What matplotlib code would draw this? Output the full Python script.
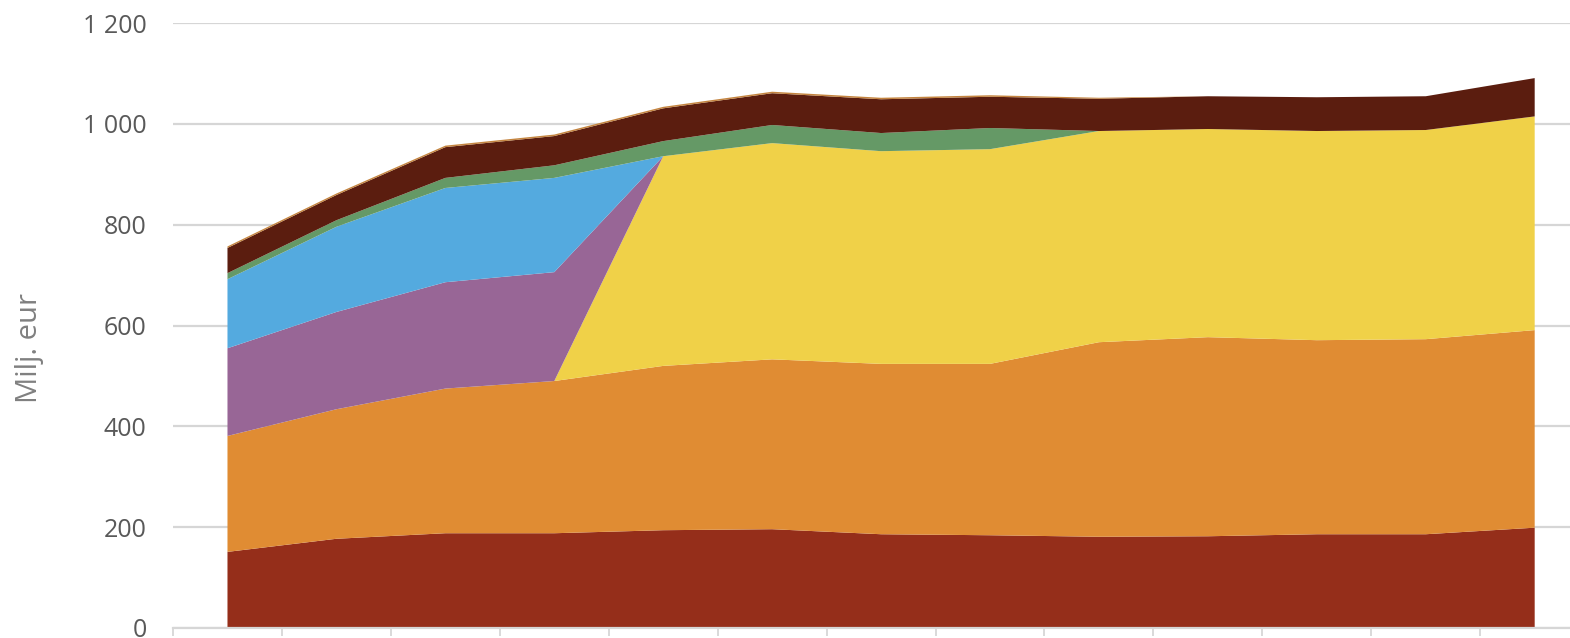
import matplotlib.pyplot as plt

# values per year (13 points), bottom to top of the stack
years = list(range(13))
red = [151, 177, 188, 188, 194, 196, 186, 184, 181, 182, 186, 186, 199]
orange = [230, 257, 287, 302, 326, 337, 338, 340, 386, 395, 385, 387, 392]
yellow = [0, 0, 0, 0, 416, 429, 422, 426, 419, 413, 415, 415, 424]
purple = [174, 193, 211, 216, 0, 0, 0, 0, 0, 0, 0, 0, 0]
blue = [137, 169, 187, 187, 0, 0, 0, 0, 0, 0, 0, 0, 0]
green = [12, 13, 20, 25, 30, 36, 36, 42, 0, 0, 0, 0, 0]
brown = [50, 50, 61, 58, 65, 63, 67, 62, 64, 65, 67, 67, 76]
tan = [3, 3, 3, 3, 3, 3, 3, 3, 2, 0, 0, 0, 0]

colors = ['#952E1A', '#E08C33', '#F0D148', '#986696', '#54AADF',
          '#659966', '#5B1D0F', '#C4843F']

yticks = [0, 200, 400, 600, 800, 1000, 1200]
ylabels = ['0', '200', '400', '600', '800', '1 000', '1 200']

fig = plt.figure(figsize=(15.7, 6.38), dpi=100)
# axes runs past the right edge, the original is cropped there
ax = fig.add_axes([0.1102, 0.0157, 0.902, 0.948])

ax.stackplot(years, red, orange, yellow, purple, blue, green, brown, tan,
             colors=colors, linewidth=0, zorder=2)

ax.set_xlim(-0.5, 12.5)
ax.set_ylim(0, 1200)
ax.set_yticks(yticks)
ax.set_yticklabels(ylabels, fontsize=18, color='#595959', family='Open Sans')
ax.tick_params(axis='y', length=0, pad=19)

ax.set_xticks([i - 0.5 for i in range(14)])
ax.set_xticklabels([])
ax.tick_params(axis='x', length=6, width=1.4, color='#D9D9D9')

ax.grid(axis='y', color='#D6D6D6', linewidth=1.6, zorder=0)
ax.set_axisbelow(True)
for s in ['top', 'right', 'left']:
    ax.spines[s].set_visible(False)
ax.spines['bottom'].set_color('#D6D6D6')
ax.spines['bottom'].set_linewidth(1.6)

fig.text(30 / 1570, 1 - 348 / 638, 'Milj. eur', rotation=90, ha='center',
         va='center', fontsize=21, color='#808080', family='Open Sans')

fig.savefig('out.png', dpi=100)
